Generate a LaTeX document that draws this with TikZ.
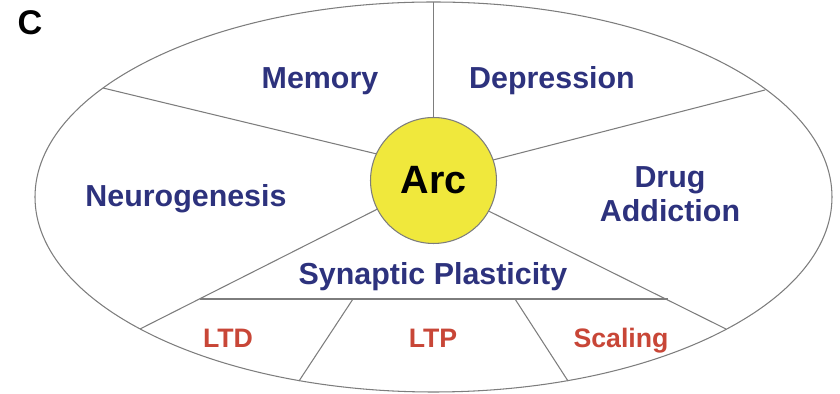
\documentclass[tikz,border=0pt]{standalone}
\usepackage{fontspec}
\setmainfont{Liberation Sans}
\definecolor{topicblue}{RGB}{45,50,125}
\definecolor{typered}{RGB}{200,70,55}
\definecolor{arcyellow}{RGB}{240,232,60}
\definecolor{divgray}{RGB}{125,125,125}

\begin{document}
\begin{tikzpicture}[x=0.02cm, y=-0.02cm,
    divider/.style={draw=divgray, line width=0.6pt},
    topic/.style={text=topicblue, font=\bfseries\fontsize{17.3}{19.4}\selectfont, align=center, inner sep=0pt},
    subtopic/.style={text=typered, font=\bfseries\fontsize{15.2}{17}\selectfont, inner sep=0pt}]
  \useasboundingbox (0,0) rectangle (840,394);

  % outer ellipse and the centre disc
  \coordinate (ec) at (433.5,197);
  \draw[divider] (ec) ellipse [x radius=398.5, y radius=195];
  \node[circle, divider, fill=arcyellow, minimum size=2.52cm, inner sep=0pt, outer sep=0pt,
        font=\bfseries\fontsize{22.5}{24}\selectfont] (arc) at (433.5,180.5) {Arc};

  % points on the ellipse
  \coordinate (etop) at (433.5,2);
  \coordinate (eleft) at (103,88);
  \coordinate (eright) at (765,90);
  \coordinate (elow) at (140,329);
  \coordinate (erlow) at (726,329);
  \coordinate (eltd) at (299,381);
  \coordinate (escal) at (568,381);

  % sectors
  \draw[divider] (arc.north) -- (etop);
  \draw[divider] (arc.155.8) -- (eleft);
  \draw[divider] (arc.19.8) -- (eright);
  \draw[divider] (arc.207.3) -- (elow);
  \draw[divider] (arc.331.2) -- (erlow);

  % plasticity band
  \coordinate (sl) at (200,299);
  \coordinate (sr) at (668,299);
  \coordinate (s1) at (353,299);
  \coordinate (s2) at (515,299);
  \draw[divider] (sl) -- (sr);
  \draw[divider] (s1) -- (eltd);
  \draw[divider] (s2) -- (escal);

  \node[anchor=base, font=\bfseries\fontsize{19.5}{22}\selectfont] (panel) at (30,35) {C};

  \node[topic, anchor=base] (memory) at (320,89) {Memory};
  \node[topic, anchor=base] (depression) at (552,89) {Depression};
  \node[topic, anchor=base] (neuro) at (186,207) {Neurogenesis};
  \node[topic] (drug) at (670,194) {Drug\\Addiction};
  \node[topic, anchor=base] (synaptic) at (433,285) {Synaptic Plasticity};

  \node[subtopic, anchor=base] (ltd) at (228,348) {LTD};
  \node[subtopic, anchor=base] (ltp) at (433,348) {LTP};
  \node[subtopic, anchor=base] (scaling) at (621,348) {Scaling};

\end{tikzpicture}
\end{document}
